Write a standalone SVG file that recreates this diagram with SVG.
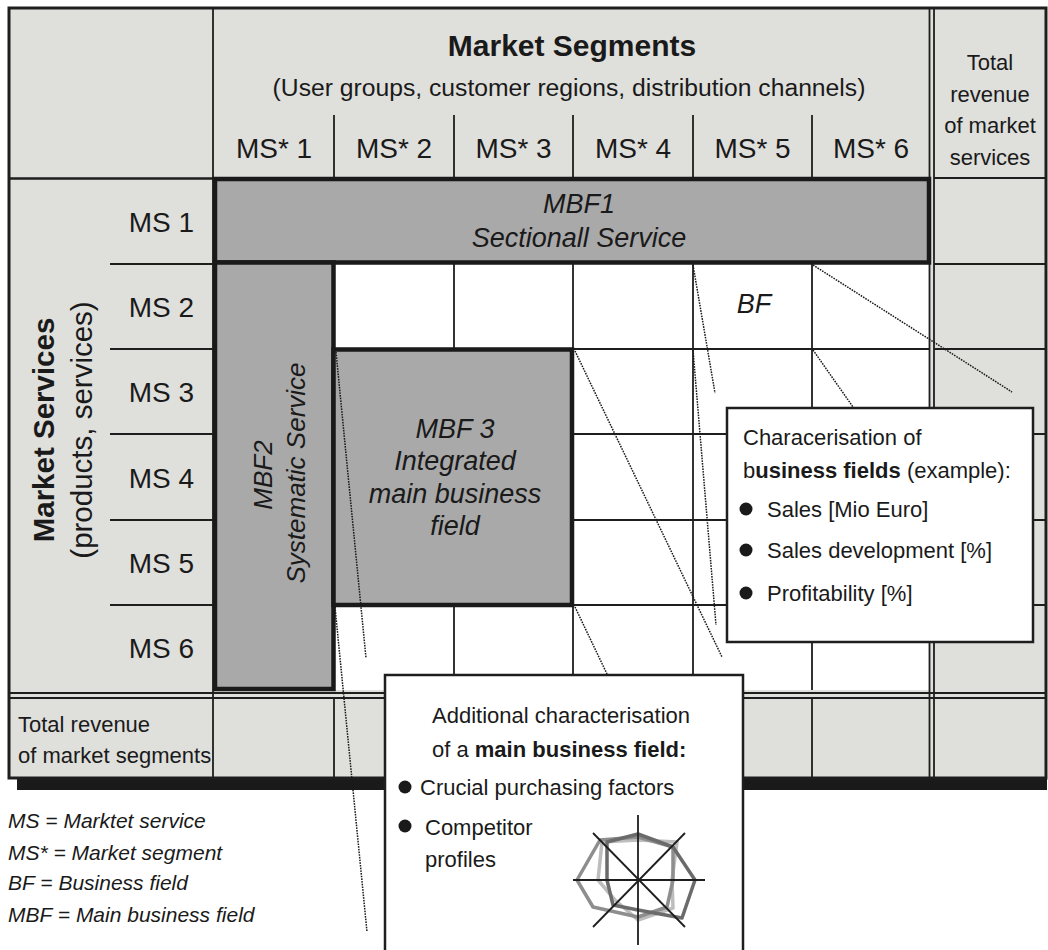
<svg xmlns="http://www.w3.org/2000/svg" width="1048" height="950" viewBox="0 0 1048 950">
<style>
 text { font-family: "Liberation Sans", Arial, sans-serif; fill: #1a1a1a; }
 .ln { stroke: #1e1e1e; stroke-width: 1.8; fill: none; }
 .lnb { stroke: #1e1e1e; stroke-width: 2.4; fill: none; }
 .mbf { fill: #a9a9a9; stroke: #1a1a1a; stroke-width: 4.5; }
 .dot { stroke: #1a1a1a; stroke-width: 1.5; stroke-dasharray: 1.6 1.1; fill: none; }
 .box { fill: #ffffff; stroke: #1e1e1e; stroke-width: 2.5; }
 .it { font-style: italic; }
 .b { font-weight: bold; }
 .bl { fill: #1a1a1a; }
 .radar { fill: none; stroke-width: 3.5; stroke-linejoin: round; }
 .axis { stroke: #1e1e1e; stroke-width: 1.8; }
</style>
<rect x="0" y="0" width="1048" height="950" fill="#ffffff"/>

<g id="table">
 <rect x="17" y="778" width="1030" height="12" fill="#1a1a1a"/>
 <rect x="9" y="8" width="1037" height="770" fill="#dfdfdb"/>
 <rect x="334" y="264" width="596" height="426" fill="#ffffff"/>
 <!-- header -->
 <line class="lnb" x1="9" y1="178.5" x2="213" y2="178.5"/>
 <line class="ln" x1="934" y1="178" x2="1046" y2="178"/>
 <line class="ln" x1="213" y1="8" x2="213" y2="778"/>
 <g class="ln">
  <line x1="334" y1="115" x2="334" y2="178"/>
  <line x1="454" y1="115" x2="454" y2="178"/>
  <line x1="573" y1="115" x2="573" y2="178"/>
  <line x1="693" y1="115" x2="693" y2="178"/>
  <line x1="812" y1="115" x2="812" y2="178"/>
 </g>
 <!-- double vertical -->
 <line class="ln" x1="929.5" y1="8" x2="929.5" y2="778"/>
 <line class="ln" x1="934" y1="8" x2="934" y2="778"/>
 <!-- grid verticals -->
 <g class="ln">
  <line x1="454" y1="264" x2="454" y2="690"/>
  <line x1="573" y1="264" x2="573" y2="690"/>
  <line x1="693" y1="264" x2="693" y2="690"/>
  <line x1="812" y1="264" x2="812" y2="690"/>
 </g>
 <!-- grid horizontals -->
 <g class="ln">
  <line x1="334" y1="349" x2="930" y2="349"/>
  <line x1="334" y1="434" x2="930" y2="434"/>
  <line x1="334" y1="520" x2="930" y2="520"/>
  <line x1="334" y1="605" x2="930" y2="605"/>
  <line x1="934" y1="264" x2="1046" y2="264"/>
  <line x1="934" y1="349" x2="1046" y2="349"/>
  <line x1="934" y1="434" x2="1046" y2="434"/>
  <line x1="934" y1="520" x2="1046" y2="520"/>
  <line x1="934" y1="605" x2="1046" y2="605"/>
  <line x1="110" y1="264" x2="213" y2="264"/>
  <line x1="110" y1="349" x2="213" y2="349"/>
  <line x1="110" y1="434" x2="213" y2="434"/>
  <line x1="110" y1="520" x2="213" y2="520"/>
  <line x1="110" y1="605" x2="213" y2="605"/>
 </g>
 <!-- double horizontal -->
 <line class="ln" x1="9" y1="693" x2="1046" y2="693"/>
 <line class="ln" x1="9" y1="698" x2="1046" y2="698"/>
 <!-- bottom row verticals -->
 <g class="ln">
  <line x1="334" y1="698" x2="334" y2="778"/>
  <line x1="454" y1="698" x2="454" y2="778"/>
  <line x1="573" y1="698" x2="573" y2="778"/>
  <line x1="693" y1="698" x2="693" y2="778"/>
  <line x1="812" y1="698" x2="812" y2="778"/>
 </g>
 <rect x="9" y="8" width="1037" height="770" fill="none" stroke="#1e1e1e" stroke-width="3"/>

 <!-- header texts -->
 <text x="572" y="56" text-anchor="middle" font-size="30" class="b">Market Segments</text>
 <text x="569" y="96" text-anchor="middle" font-size="24.7">(User groups, customer regions, distribution channels)</text>
 <g font-size="28" text-anchor="middle">
  <text x="274" y="158">MS* 1</text>
  <text x="394" y="158">MS* 2</text>
  <text x="513.5" y="158">MS* 3</text>
  <text x="633" y="158">MS* 4</text>
  <text x="752.5" y="158">MS* 5</text>
  <text x="871" y="158">MS* 6</text>
 </g>
 <g font-size="22" text-anchor="middle">
  <text x="990" y="70">Total</text>
  <text x="990" y="102">revenue</text>
  <text x="990" y="133">of market</text>
  <text x="990" y="165">services</text>
 </g>
 <!-- left column -->
 <g font-size="28" text-anchor="end">
  <text x="194" y="232">MS 1</text>
  <text x="194" y="317">MS 2</text>
  <text x="194" y="402">MS 3</text>
  <text x="194" y="488">MS 4</text>
  <text x="194" y="573">MS 5</text>
  <text x="194" y="658">MS 6</text>
 </g>
 <text transform="translate(54,430) rotate(-90)" text-anchor="middle" font-size="29.5" class="b">Market Services</text>
 <text transform="translate(92,430) rotate(-90)" text-anchor="middle" font-size="29.5">(products, services)</text>
 <!-- bottom row -->
 <text x="18" y="732" font-size="22">Total revenue</text>
 <text x="18" y="763" font-size="22">of market segments</text>
 <text x="754" y="313" text-anchor="middle" font-size="27" class="it">BF</text>
</g>

<g id="mbf1">
 <rect class="mbf" x="215" y="179" width="714" height="83.5"/>
 <text x="579" y="213" text-anchor="middle" font-size="27" class="it">MBF1</text>
 <text x="579" y="247" text-anchor="middle" font-size="27" class="it">Sectionall Service</text>
</g>
<g id="mbf2">
 <rect class="mbf" x="215" y="262.5" width="118.5" height="426.5"/>
 <text transform="translate(272,475) rotate(-90)" text-anchor="middle" font-size="26" class="it">MBF2</text>
 <text transform="translate(305,473) rotate(-90)" text-anchor="middle" font-size="26" class="it">Systematic Service</text>
</g>
<g id="mbf3">
 <rect class="mbf" x="333.5" y="349.5" width="238.5" height="255.5"/>
 <g font-size="27" class="it" text-anchor="middle">
  <text x="455" y="438">MBF 3</text>
  <text x="455" y="470">Integrated</text>
  <text x="455" y="503">main business</text>
  <text x="455" y="535">field</text>
 </g>
</g>

<g id="connectors" class="dot">
 <line x1="336" y1="352" x2="366" y2="658"/>
 <line x1="575" y1="351" x2="722" y2="657"/>
 <line x1="575" y1="607" x2="607" y2="674"/>
 <line x1="335" y1="607" x2="367" y2="932"/>
 <line x1="693" y1="265" x2="715" y2="393"/>
 <line x1="693" y1="350" x2="716" y2="625"/>
 <line x1="813" y1="265" x2="1012" y2="392"/>
 <line x1="813" y1="350" x2="853" y2="407"/>
</g>

<g id="callout-bf">
 <rect class="box" x="727" y="408" width="306" height="234"/>
 <g font-size="22">
  <text x="743" y="445">Characerisation of</text>
  <text x="743" y="478">b<tspan class="b">usiness fields</tspan> (example):</text>
  <text x="767" y="517">Sales [Mio Euro]</text>
  <text x="767" y="558">Sales development [%]</text>
  <text x="767" y="601">Profitability [%]</text>
 </g>
 <circle class="bl" cx="746" cy="509" r="6.5"/>
 <circle class="bl" cx="746" cy="550" r="6.5"/>
 <circle class="bl" cx="746" cy="593" r="6.5"/>
</g>

<g id="callout-mbf">
 <rect class="box" x="385" y="675" width="358" height="290"/>
 <g font-size="22">
  <text x="432" y="723">Additional characterisation</text>
  <text x="432" y="757">of a <tspan class="b">main business field:</tspan></text>
  <text x="420" y="795">Crucial purchasing factors</text>
  <text x="425" y="835">Competitor</text>
  <text x="425" y="867">profiles</text>
 </g>
 <circle class="bl" cx="405" cy="787" r="6.5"/>
 <circle class="bl" cx="405" cy="826" r="6.5"/>
 <g id="radar">
  <polygon class="radar" stroke="#bdbdbd" points="638,840 677,842 672,880 673,908 638,920 615,900 598,880 602,842"/>
  <polygon class="radar" stroke="#8e8e8e" points="638,837 673,847 673,880 667,907 638,917 593,907 577,880 600,840"/>
  <polygon class="radar" stroke="#6b6b6b" points="638,834 673,847 695,880 682,918 638,910 613,905 607,880 607,842"/>
  <line class="axis" x1="638" y1="815" x2="638" y2="945"/>
  <line class="axis" x1="573" y1="880" x2="705" y2="880"/>
  <line class="axis" x1="593" y1="833" x2="685" y2="927"/>
  <line class="axis" x1="685" y1="833" x2="593" y2="927"/>
 </g>
</g>

<g id="legend" font-size="21" class="it">
 <text x="8" y="828">MS = Marktet service</text>
 <text x="8" y="860">MS* = Market segment</text>
 <text x="8" y="890">BF = Business field</text>
 <text x="8" y="922">MBF = Main business field</text>
</g>
</svg>
